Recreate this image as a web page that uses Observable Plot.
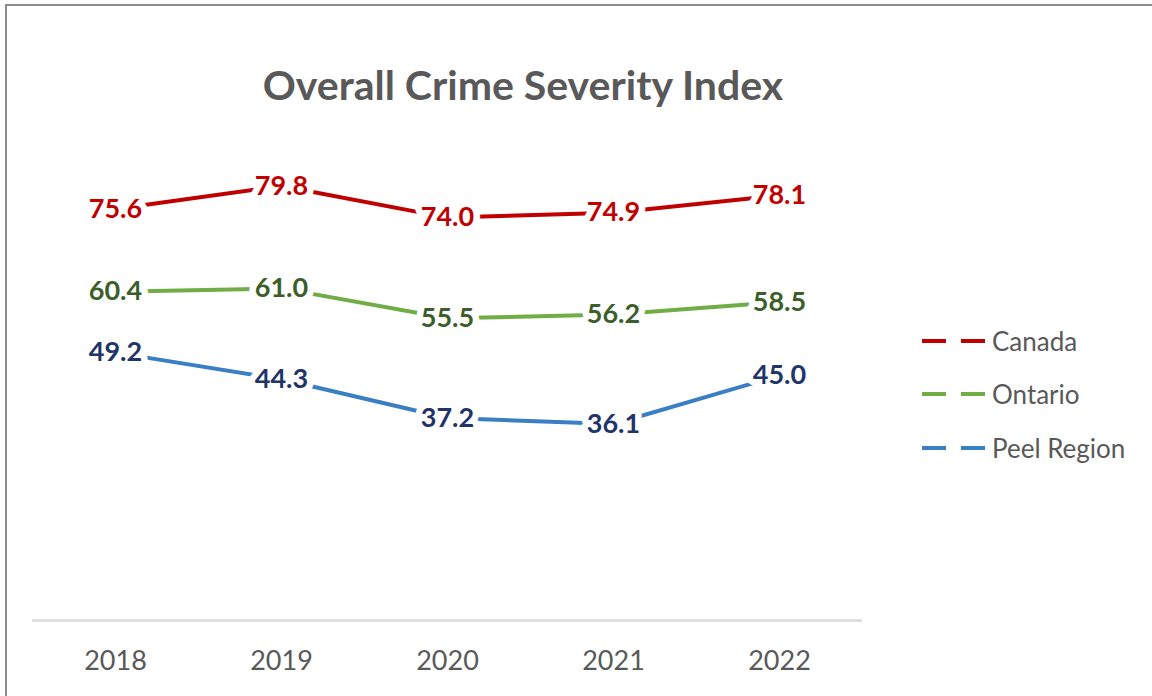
<!DOCTYPE html>
<html>
<head>
<meta charset="utf-8">
<script src="https://cdn.jsdelivr.net/npm/d3@7"></script>
<script src="https://cdn.jsdelivr.net/npm/@observablehq/plot@0.6"></script>
<style>
  html, body { margin: 0; padding: 0; background: #fff; }
  #wrap { position: relative; width: 1152px; height: 696px; overflow: hidden; font-family: Lato, "Open Sans", sans-serif; }
  #frame { position: absolute; left: 5px; top: 4px; width: 1200px; height: 800px; border-left: 2px solid #8c8c8c; border-top: 2px solid #8c8c8c; }
  #title { position: absolute; left: 0; width: 1046px; top: 60px; text-align: center; font-size: 41px; font-weight: bold; color: #595959; }
  #chart { position: absolute; left: 0; top: 0; }
  #legend { position: absolute; left: 920px; top: 314px; }
  .item { display: flex; align-items: center; height: 53.5px; font-size: 26px; color: #595959; }
  .item svg { margin-right: 5px; }
</style>
</head>
<body>
<div id="wrap">
  <div id="frame"></div>
  <div id="chart"></div>
  <div id="title">Overall Crime Severity Index</div>
  <div id="legend"></div>
</div>
<script>
const years = ["2018", "2019", "2020", "2021", "2022"];
const seriesNames = ["Canada", "Ontario", "Peel Region"];
const canada = [75.6, 79.8, 74.0, 74.9, 78.1];
const ontario = [60.4, 61.0, 55.5, 56.2, 58.5];
const peel = [49.2, 44.3, 37.2, 36.1, 45.0];
const lineColors = ["#c00000", "#70ad47", "#3a7ec4"];
const labelColors = ["#c00000", "#3b5e2b", "#1f3468"];

const seriesValues = [canada, ontario, peel];
const rows = seriesValues.map((vals) => years.map((y, i) => ({year: y, value: vals[i]})));

const marks = [
  Plot.ruleY([0], {stroke: "#d9d9d9", strokeWidth: 2.5}),
  Plot.axisX({tickSize: 0, tickPadding: 30, fontSize: 27, fill: "#595959", label: null})
];
rows.forEach((data, k) => {
  marks.push(Plot.line(data, {x: "year", y: "value", stroke: lineColors[k], strokeWidth: 4}));
});
rows.forEach((data, k) => {
  marks.push(Plot.text(data, {x: "year", y: "value", text: (d) => d.value.toFixed(1), fill: labelColors[k], stroke: "white", strokeWidth: 13, strokeLinejoin: "round", fontSize: 27, fontWeight: "bold"}));
});

const chart = Plot.plot({
  width: 1152,
  height: 696,
  marginLeft: 32,
  marginRight: 290,
  marginTop: 130,
  marginBottom: 76,
  style: {fontFamily: "Lato, 'Open Sans', sans-serif", background: "transparent"},
  x: {type: "point", domain: years, padding: 0.5},
  y: {domain: [0, 90], axis: null},
  marks
});
document.getElementById("chart").appendChild(chart);

const legend = document.getElementById("legend");
seriesNames.forEach((name, k) => {
  const item = document.createElement("div");
  item.className = "item";
  item.innerHTML = `<svg width="67" height="10"><line x1="2" x2="65" y1="5" y2="5" stroke="${lineColors[k]}" stroke-width="4" stroke-dasharray="24 15"/></svg><span>${name}</span>`;
  legend.appendChild(item);
});
</script>
</body>
</html>
